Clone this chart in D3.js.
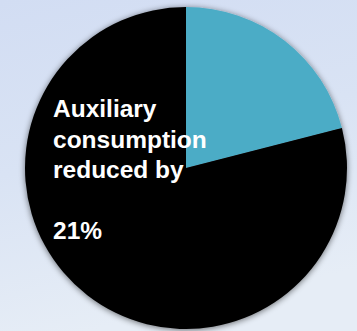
<!DOCTYPE html>
<html>
<head>
<meta charset="utf-8">
<script src="https://cdn.jsdelivr.net/npm/d3@7"></script>
<style>
  html, body { margin: 0; padding: 0; }
  body { width: 357px; height: 331px; overflow: hidden; }
  svg { display: block; }
</style>
</head>
<body>
<svg id="chart" width="357" height="331"></svg>
<script>
// Share of auxiliary consumption: the saved part and what remains
const categories = ["Reduced", "Remaining"];
const values = [21, 79];
const colors = ["#4bacc6", "#000000"];
const labelLines = ["Auxiliary", "consumption", "reduced by", "", "21%"];

const W = 357, H = 331;
const cx = 186, cy = 168, radius = 161;

const svg = d3.select("#chart");
const defs = svg.append("defs");

// soft bluish backdrop
const bg = defs.append("linearGradient")
  .attr("id", "bg").attr("x1", "0").attr("y1", "0").attr("x2", "0.25").attr("y2", "1");
bg.append("stop").attr("offset", "0").attr("stop-color", "#d2ddf3");
bg.append("stop").attr("offset", "0.5").attr("stop-color", "#d9e3f4");
bg.append("stop").attr("offset", "1").attr("stop-color", "#e6edf6");
svg.append("rect").attr("width", W).attr("height", H).attr("fill", "url(#bg)");

// outer shadow around the pie
const sh = defs.append("filter").attr("id", "shadow")
  .attr("x", "-20%").attr("y", "-20%").attr("width", "140%").attr("height", "140%");
sh.append("feGaussianBlur").attr("in", "SourceAlpha").attr("stdDeviation", 3).attr("result", "b");
sh.append("feOffset").attr("in", "b").attr("dx", 0).attr("dy", 1).attr("result", "o");
sh.append("feComponentTransfer").attr("in", "o").attr("result", "s")
  .append("feFuncA").attr("type", "linear").attr("slope", 0.55);
const m = sh.append("feMerge");
m.append("feMergeNode").attr("in", "s");
m.append("feMergeNode").attr("in", "SourceGraphic");

const pie = d3.pie().sort(null).value(d => d.value);
const arc = d3.arc().innerRadius(0).outerRadius(radius);
const data = categories.map((c, i) => ({ category: c, value: values[i] }));
const color = d3.scaleOrdinal().domain(categories).range(colors);

const g = svg.append("g")
  .attr("transform", `translate(${cx},${cy})`)
  .attr("filter", "url(#shadow)");

g.selectAll("path")
  .data(pie(data))
  .join("path")
  .attr("d", arc)
  .attr("fill", d => color(d.data.category));

// caption text
const text = svg.append("text")
  .attr("x", 53)
  .attr("y", 117)
  .attr("fill", "#ffffff")
  .attr("font-family", "'Liberation Sans', Arial, sans-serif")
  .attr("font-weight", "bold")
  .attr("font-size", 24.5);

text.selectAll("tspan")
  .data(labelLines)
  .join("tspan")
  .attr("x", 53)
  .attr("dy", (d, i) => i === 0 ? 0 : 30.5)
  .text(d => d === "" ? "\u00a0" : d);
</script>
</body>
</html>
